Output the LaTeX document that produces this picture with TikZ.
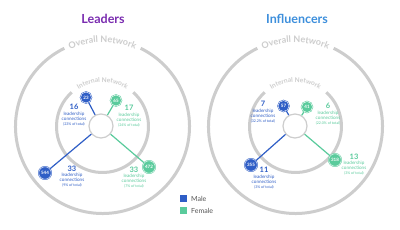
\documentclass[tikz,border=0pt]{standalone}
\usepackage{fontspec}
\setmainfont{Lato}
\usetikzlibrary{decorations.text}
\definecolor{ringgray}{HTML}{CDCDCD}
\definecolor{maleblue}{HTML}{2F5EC6}
\definecolor{femgreen}{HTML}{5ACB9C}
\definecolor{leadpurple}{HTML}{7A2CB0}
\definecolor{inflblue}{HTML}{3D8FDC}
\definecolor{legendtext}{HTML}{555555}
\newcommand{\statnum}{\fontsize{7.5}{7.5}\selectfont\bfseries}
\newcommand{\statsub}{\fontsize{4.6}{5.2}\selectfont}
\newcommand{\statpct}{\fontsize{3.6}{5.2}\selectfont}
\tikzset{
  ring/.style={draw=ringgray, line width=3pt},
  hub/.style={circle, draw=ringgray, line width=1.2pt, fill=white, minimum size=24pt, inner sep=0pt},
  dot/.style={circle, fill=#1, draw=#1, double=white, double distance=0.45pt, line width=0.5pt,
    minimum size=12.5pt, inner sep=0pt, text=white, font=\bfseries\fontsize{4.5}{4.5}\selectfont},
  smalldot/.style={dot=#1, minimum size=11pt},
  link/.style={draw=#1, line width=1.2pt},
  stat/.style={align=center, text=#1, inner sep=0pt, font=\statsub},
  title/.style={font=\bfseries\fontsize{12.5}{12.5}\selectfont, text=#1},
  legbox/.style={fill=#1, minimum size=7pt, inner sep=0pt},
  legtext/.style={anchor=west, text=legendtext, font=\fontsize{7}{7}\selectfont, inner sep=0pt}
}
\begin{document}
\begin{tikzpicture}[x=1pt,y=1pt]
\useasboundingbox (0,0) rectangle (400,230);
\fill[white] (0,0) rectangle (400,230);

% ---------- Leaders ----------
\coordinate (LC) at (102.5,103.5);
\node[title=leadpurple] (Lt) at (103,211) {Leaders};
\draw[ring] (LC) ++(116:87) arc[start angle=116, end angle=424, radius=87];
\path[decorate, decoration={text along path, text align=center, text color=ringgray,
  text={|\bfseries\fontsize{9}{9}\selectfont|Overall Network}}]
  (LC) ++(118:84) arc[start angle=118, end angle=62, radius=84];
\draw[ring] (LC) ++(132:46) arc[start angle=132, end angle=408, radius=46];
\path[decorate, decoration={text along path, text align=center, text color=ringgray,
  text={|\bfseries\fontsize{6.6}{6.6}\selectfont|Internal Network}}]
  (LC) ++(136:44.2) arc[start angle=136, end angle=44, radius=44.2];

\node[hub] (Lh) at (101,104) {};
\node[dot=maleblue] (L544) at (45,57) {544};
\node[dot=femgreen] (L472) at (149,63) {472};
\node[smalldot=maleblue] (L23) at (86,132.5) {23};
\node[smalldot=femgreen] (L65) at (116,129.5) {65};
\draw[link=maleblue] (L544) -- (Lh);
\draw[link=femgreen] (L472) -- (Lh);
\draw[link=maleblue] (L23) -- (Lh);
\draw[link=femgreen] (L65) -- (Lh);

\node[stat=maleblue] (Ls1) at (74,114.5) {{\statnum 16}\\[0.3pt]leadership\\connections\\{\statpct (23\% of total)}};
\node[stat=femgreen] (Ls2) at (129,113.5) {{\statnum 17}\\[0.3pt]leadership\\connections\\{\statpct (24\% of total)}};
\node[stat=maleblue] (Ls3) at (72,53.5) {{\statnum 33}\\[0.3pt]leadership\\connections\\{\statpct (9\% of total)}};
\node[stat=femgreen] (Ls4) at (134,52.5) {{\statnum 33}\\[0.3pt]leadership\\connections\\{\statpct (7\% of total)}};

% ---------- Influencers ----------
\coordinate (RC) at (295.5,103.5);
\node[title=inflblue] (Rt) at (297,211) {Influencers};
\draw[ring] (RC) ++(116:87) arc[start angle=116, end angle=424, radius=87];
\path[decorate, decoration={text along path, text align=center, text color=ringgray,
  text={|\bfseries\fontsize{9}{9}\selectfont|Overall Network}}]
  (RC) ++(118:84) arc[start angle=118, end angle=62, radius=84];
\draw[ring] (RC) ++(132:46) arc[start angle=132, end angle=408, radius=46];
\path[decorate, decoration={text along path, text align=center, text color=ringgray,
  text={|\bfseries\fontsize{6.6}{6.6}\selectfont|Internal Network}}]
  (RC) ++(136:44.2) arc[start angle=136, end angle=44, radius=44.2];

\node[hub] (Rh) at (295,104) {};
\node[dot=maleblue] (R355) at (251,65) {355};
\node[dot=femgreen] (R318) at (335,70) {318};
\node[smalldot=maleblue] (R57) at (283.5,124) {57};
\node[smalldot=femgreen] (R41) at (307,123) {41};
\draw[link=maleblue] (R355) -- (Rh);
\draw[link=femgreen] (R318) -- (Rh);
\draw[link=maleblue] (R57) -- (Rh);
\draw[link=femgreen] (R41) -- (Rh);

\node[stat=maleblue] (Rs1) at (263,117.5) {{\statnum 7}\\[0.3pt]leadership\\connections\\{\statpct (32.2\% of total)}};
\node[stat=femgreen] (Rs2) at (328,115.5) {{\statnum 6}\\[0.3pt]leadership\\connections\\{\statpct (22.0\% of total)}};
\node[stat=maleblue] (Rs3) at (264,51.5) {{\statnum 11}\\[0.3pt]leadership\\connections\\{\statpct (3\% of total)}};
\node[stat=femgreen] (Rs4) at (354,65.5) {{\statnum 13}\\[0.3pt]leadership\\connections\\{\statpct (3\% of total)}};

% ---------- Legend ----------
\node[legbox=maleblue] (lm) at (183.5,31) {};
\node[legtext] (lmt) at (191,31) {Male};
\node[legbox=femgreen] (lf) at (183.5,19) {};
\node[legtext] (lft) at (191,19) {Female};
\end{tikzpicture}
\end{document}
